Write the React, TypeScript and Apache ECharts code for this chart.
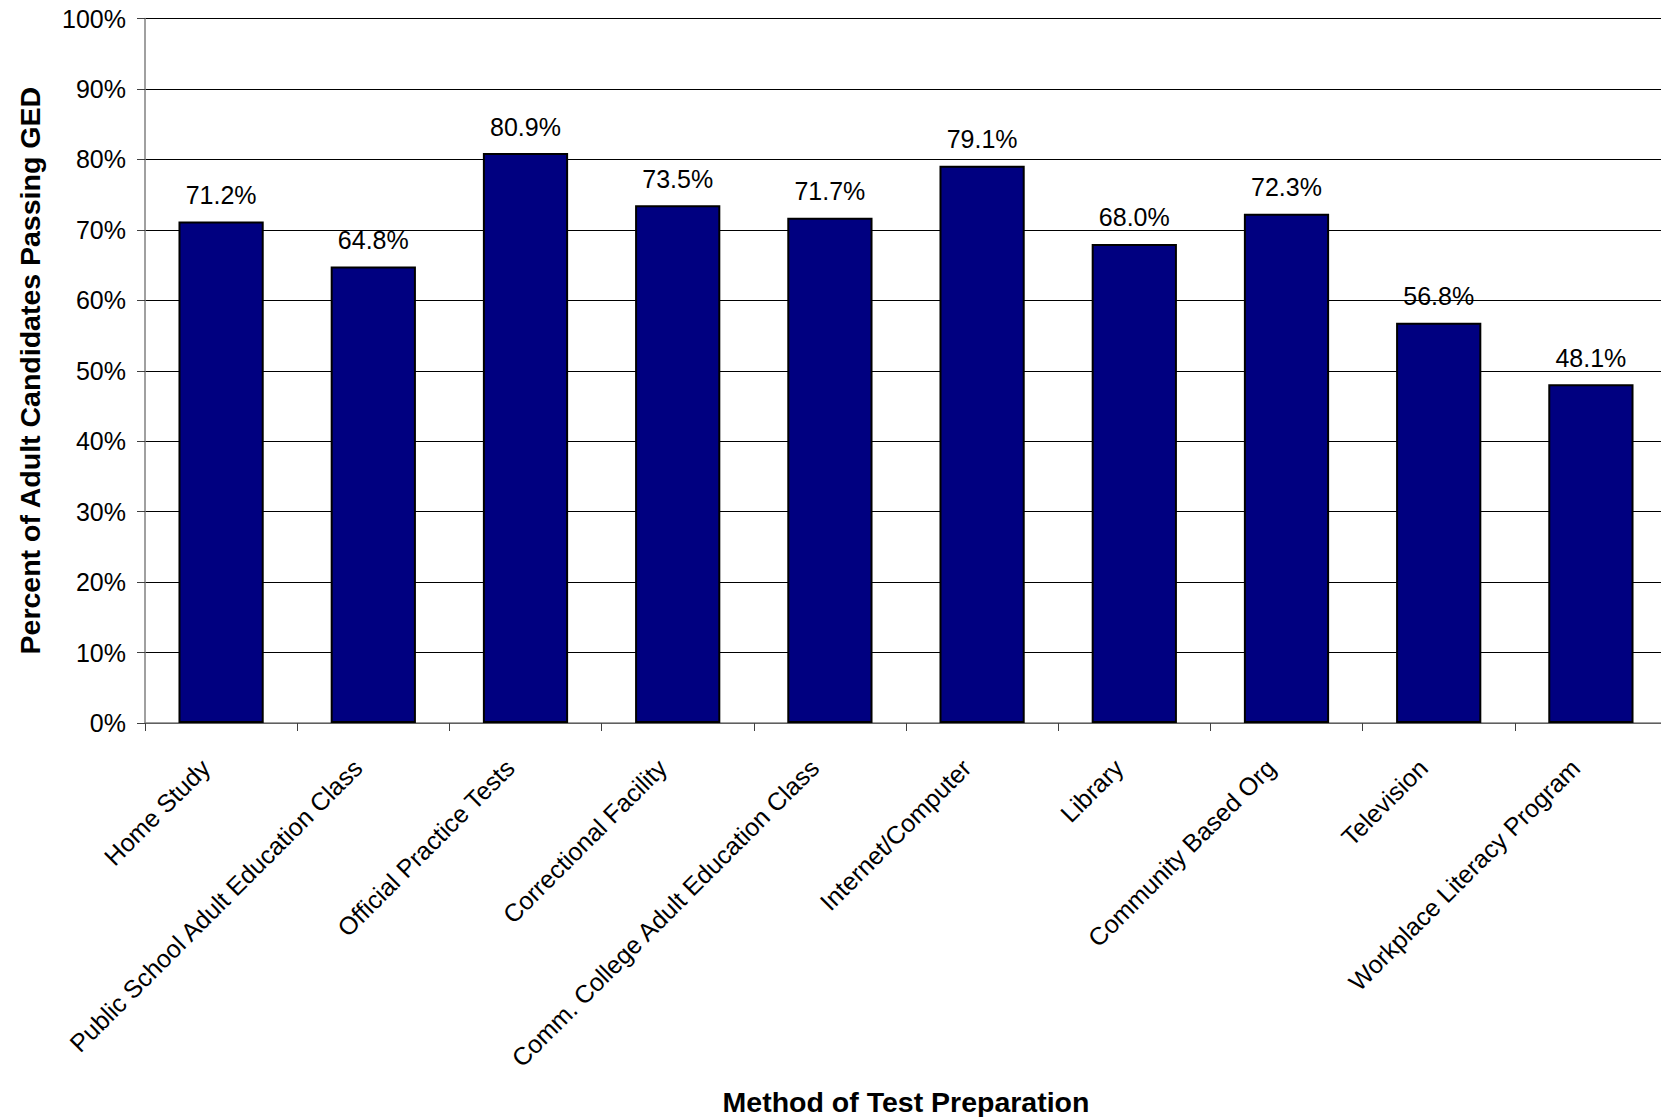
import React, { useEffect, useRef } from "react";
import * as echarts from "echarts";

const categories = [
  "Home Study",
  "Public School Adult Education Class",
  "Official Practice Tests",
  "Correctional Facility",
  "Comm. College Adult Education Class",
  "Internet/Computer",
  "Library",
  "Community Based Org",
  "Television",
  "Workplace Literacy Program",
];

const passRates = [71.2, 64.8, 80.9, 73.5, 71.7, 79.1, 68.0, 72.3, 56.8, 48.1];

const yTitle = "Percent of Adult Candidates Passing GED";
const xTitle = "Method of Test Preparation";

const FONT = "'Liberation Sans', Arial, sans-serif";

export default function App() {
  const ref = useRef<HTMLDivElement>(null);

  useEffect(() => {
    document.body.style.margin = "0";
    const chart = echarts.init(ref.current!, null, { renderer: "svg" });
    chart.setOption({
      animation: false,
      backgroundColor: "#ffffff",
      textStyle: { fontFamily: FONT },
      grid: {
        left: 145,
        top: 18.5,
        right: -6,
        bottom: 394,
        containLabel: false,
        outerBoundsMode: "none",
      },
      xAxis: {
        type: "category",
        data: categories,
        name: xTitle,
        nameLocation: "middle",
        nameGap: 364,
        nameTextStyle: {
          fontFamily: FONT,
          fontWeight: "bold",
          fontSize: 28.5,
          color: "#000",
        },
        axisLine: { show: true, lineStyle: { color: "#808080", width: 1.5 } },
        axisTick: { show: true, length: 8, lineStyle: { color: "#404040", width: 1 } },
        axisLabel: {
          rotate: 45,
          interval: 0,
          margin: 25,
          padding: [0, 22, 0, 0],
          fontFamily: FONT,
          fontSize: 25,
          color: "#000",
        },
        splitLine: { show: false },
      },
      yAxis: {
        type: "value",
        min: 0,
        max: 100,
        interval: 10,
        name: yTitle,
        nameLocation: "middle",
        nameRotate: 90,
        nameGap: 101,
        nameTextStyle: {
          fontFamily: FONT,
          fontWeight: "bold",
          fontSize: 28.5,
          color: "#000",
        },
        axisLine: { show: true, lineStyle: { color: "#808080", width: 1.5 } },
        axisTick: { show: true, length: 8, lineStyle: { color: "#404040", width: 1 } },
        axisLabel: {
          margin: 19,
          fontFamily: FONT,
          fontSize: 25,
          color: "#000",
          formatter: "{value}%",
        },
        splitLine: { show: true, lineStyle: { color: "#000", width: 1 } },
      },
      series: [
        {
          type: "bar",
          data: passRates,
          barWidth: "56%",
          itemStyle: { color: "#000080", borderColor: "#000", borderWidth: 2 },
          label: {
            show: true,
            position: "top",
            distance: 14,
            fontFamily: FONT,
            fontSize: 25,
            color: "#000",
            formatter: (p: any) => `${Number(p.value).toFixed(1)}%`,
          },
        },
      ],
    });
    return () => chart.dispose();
  }, []);

  return <div ref={ref} style={{ width: 1661, height: 1117 }} />;
}
